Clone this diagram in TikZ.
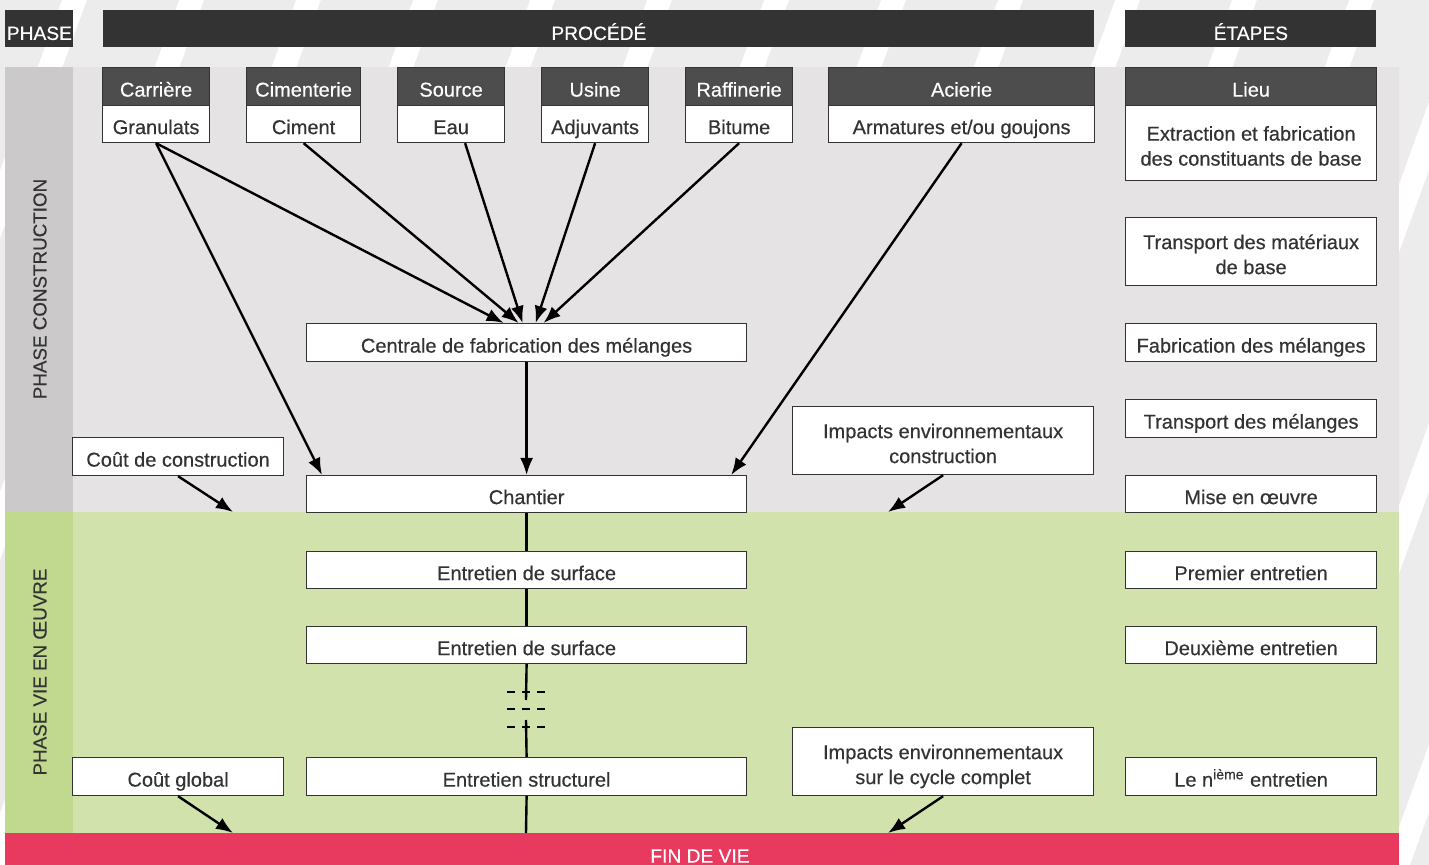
\documentclass[tikz,border=0pt]{standalone}
\usepackage{fontspec}
\setmainfont{Liberation Sans}[UprightFeatures={FakeBold=0.4}]
\usetikzlibrary{arrows.meta}

\definecolor{darkhead}{HTML}{333333}
\definecolor{subhead}{HTML}{4D4D4D}
\definecolor{txtgray}{HTML}{333333}
\definecolor{consgray}{HTML}{E5E3E4}
\definecolor{consside}{HTML}{CBC9CA}
\definecolor{vielight}{HTML}{D1E2AD}
\definecolor{vieside}{HTML}{C1D88F}
\definecolor{finred}{HTML}{E8395F}
\definecolor{stripegray}{HTML}{ECECEC}

\newcommand{\lbl}{\fontsize{10}{12.5}\selectfont}
\newcommand{\hdr}{\fontsize{9.6}{12}\selectfont}

\begin{document}
\begin{tikzpicture}[x=0.5pt,y=-0.5pt,
	box/.style={draw=txtgray, line width=0.6pt, fill=white, anchor=north west,
		inner sep=0pt, text=txtgray, font=\lbl, align=center,
		text height=10pt, text depth=0pt},
	twoline/.style={text height=22.5pt, text depth=0pt},
	subhead/.style={box, fill=subhead, text=white},
	headbar/.style={fill=darkhead, anchor=north west, inner sep=0pt, text=white,
		font=\hdr, minimum height=18.5pt, text height=11pt, text depth=0pt},
	sidetext/.style={rotate=90, text=txtgray, font=\fontsize{9.4}{11}\selectfont},
	arrow/.style={-{Latex[length=8.5pt,width=6.5pt]}, line width=1.2pt},
	link/.style={line width=1.2pt}]
		
		% background stripes
		\useasboundingbox (0,0) rectangle (1429,865);
		\begin{scope}
		\clip (0,0) rectangle (1429,865);
		\fill[white] (0,0) rectangle (1429,865);
		\foreach \i in {0,...,16}
			\fill[stripegray] (\i*117-30,0) -- (\i*117+62,0) -- (\i*117+62-315,865) -- (\i*117-30-315,865) -- cycle;
		\end{scope}
		
		% phases
		\fill[consgray] (5,67) rectangle (1399,512);
		\fill[consside] (5,67) rectangle (73,512);
		\fill[vielight] (5,512) rectangle (1399,833);
		\fill[vieside] (5,512) rectangle (73,833);
		\fill[finred] (5,833) rectangle (1399,865);
		\node[text=white, font=\hdr] (fin) at (700,856) {FIN DE VIE};
		\node[sidetext] (phcons) at (40,289) {PHASE CONSTRUCTION};
		\node[sidetext] (phvie) at (40,672) {PHASE VIE EN ŒUVRE};
		
		% headers
		\node[headbar, minimum width=34pt] (phase) at (5,10) {PHASE};
		\node[headbar, minimum width=495.5pt] (procede) at (103,10) {PROCÉDÉ};
		\node[headbar, minimum width=125.5pt] (etapes) at (1125,10) {ÉTAPES};
		
		% sources
		\node[subhead, minimum width=53.5pt, minimum height=19pt] (carriere) at (102,67) {Carrière};
		\node[box, minimum width=53.5pt, minimum height=18.5pt] (granulats) at (102,105) {Granulats};
		\node[subhead, minimum width=57pt, minimum height=19pt] (cimenterie) at (246,67) {Cimenterie};
		\node[box, minimum width=57pt, minimum height=18.5pt] (ciment) at (246,105) {Ciment};
		\node[subhead, minimum width=53.5pt, minimum height=19pt] (source) at (397,67) {Source};
		\node[box, minimum width=53.5pt, minimum height=18.5pt] (eau) at (397,105) {Eau};
		\node[subhead, minimum width=53.5pt, minimum height=19pt] (usine) at (541,67) {Usine};
		\node[box, minimum width=53.5pt, minimum height=18.5pt] (adjuvants) at (541,105) {Adjuvants};
		\node[subhead, minimum width=53.5pt, minimum height=19pt] (raffinerie) at (685,67) {Raffinerie};
		\node[box, minimum width=53.5pt, minimum height=18.5pt] (bitume) at (685,105) {Bitume};
		\node[subhead, minimum width=133pt, minimum height=19pt] (acierie) at (828,67) {Acierie};
		\node[box, minimum width=133pt, minimum height=18.5pt] (armatures) at (828,105) {Armatures et/ou goujons};
		
		% process
		\node[box, minimum width=220pt, minimum height=19pt] (centrale) at (306,323) {Centrale de fabrication des mélanges};
		\node[box, minimum width=220pt, minimum height=18.5pt] (chantier) at (306,475) {Chantier};
		\node[box, minimum width=220pt, minimum height=18.5pt] (entun) at (306,551) {Entretien de surface};
		\node[box, minimum width=220pt, minimum height=18.5pt] (entdeux) at (306,626) {Entretien de surface};
		\node[box, minimum width=220pt, minimum height=19pt] (structurel) at (306,757) {Entretien structurel};
		
		% costs and impacts
		\node[box, minimum width=105.5pt, minimum height=19pt] (coutcons) at (72,437) {Coût de construction};
		\node[box, minimum width=105.5pt, minimum height=19pt] (coutglob) at (72,757) {Coût global};
		\node[box, twoline, minimum width=150.5pt, minimum height=34pt] (impcons) at (792,406) {Impacts environnementaux\\construction};
		\node[box, twoline, minimum width=150.5pt, minimum height=34pt] (impcycle) at (792,727) {Impacts environnementaux\\sur le cycle complet};
		
		% steps
		\node[subhead, minimum width=125.5pt, minimum height=19pt] (lieu) at (1125,67) {Lieu};
		\node[box, twoline, minimum width=125.5pt, minimum height=37.5pt] (extraction) at (1125,105) {Extraction et fabrication\\des constituants de base};
		\node[box, twoline, minimum width=125.5pt, minimum height=34pt] (transmat) at (1125,217) {Transport des matériaux\\de base};
		\node[box, minimum width=125.5pt, minimum height=19pt] (fabmel) at (1125,323) {Fabrication des mélanges};
		\node[box, minimum width=125.5pt, minimum height=19pt] (transmel) at (1125,399) {Transport des mélanges};
		\node[box, minimum width=125.5pt, minimum height=18.5pt] (miseoeuvre) at (1125,475) {Mise en œuvre};
		\node[box, minimum width=125.5pt, minimum height=18.5pt] (premier) at (1125,551) {Premier entretien};
		\node[box, minimum width=125.5pt, minimum height=18.5pt] (deuxieme) at (1125,626) {Deuxième entretien};
		\node[box, minimum width=125.5pt, minimum height=19pt] (nieme) at (1125,757) {Le n\textsuperscript{ième} entretien};
		
		% free ends
		\coordinate (pcons) at (233,512);
		\coordinate (icons) at (888,512);
		\coordinate (pglob) at (233,833);
		\coordinate (icycle) at (888,833);
		\coordinate (breakhaut) at (526,700);
		\coordinate (breakbas) at (526,720);
		\coordinate (finvie) at (526,833);
		
		% arrows
		\draw[arrow] (granulats.south) to ([xshift=-11.5pt]centrale.north);
		\draw[arrow] (granulats.south) to ([xshift=8pt]chantier.north west);
		\draw[arrow] (ciment.south) to ([xshift=-4pt]centrale.north);
		\draw[arrow] ([xshift=7pt]eau.south) to ([xshift=-2pt]centrale.north);
		\draw[arrow] (adjuvants.south) to ([xshift=4.5pt]centrale.north);
		\draw[arrow] (bitume.south) to ([xshift=8.5pt]centrale.north);
		\draw[arrow] (armatures.south) to ([xshift=-8pt]chantier.north east);
		\draw[arrow] (centrale.south) to (chantier.north);
		
		\draw[arrow] (coutcons.south) to (pcons);
		\draw[arrow] (impcons.south) to (icons);
		\draw[arrow] (coutglob.south) to (pglob);
		\draw[arrow] (impcycle.south) to (icycle);
		
		\draw[link] (chantier.south) to (entun.north);
		\draw[link] (entun.south) to (entdeux.north);
		\draw[link] (entdeux.south) to (breakhaut);
		\draw[link] (breakbas) to (structurel.north);
		\draw[link] (structurel.south) to (finvie);
		
		% break in the line
		\foreach \y in {692,709,727}
			\draw[line width=1.3pt, dash pattern=on 4pt off 3.5pt] (507,\y) -- (546,\y);
		
	\end{tikzpicture}
\end{document}
